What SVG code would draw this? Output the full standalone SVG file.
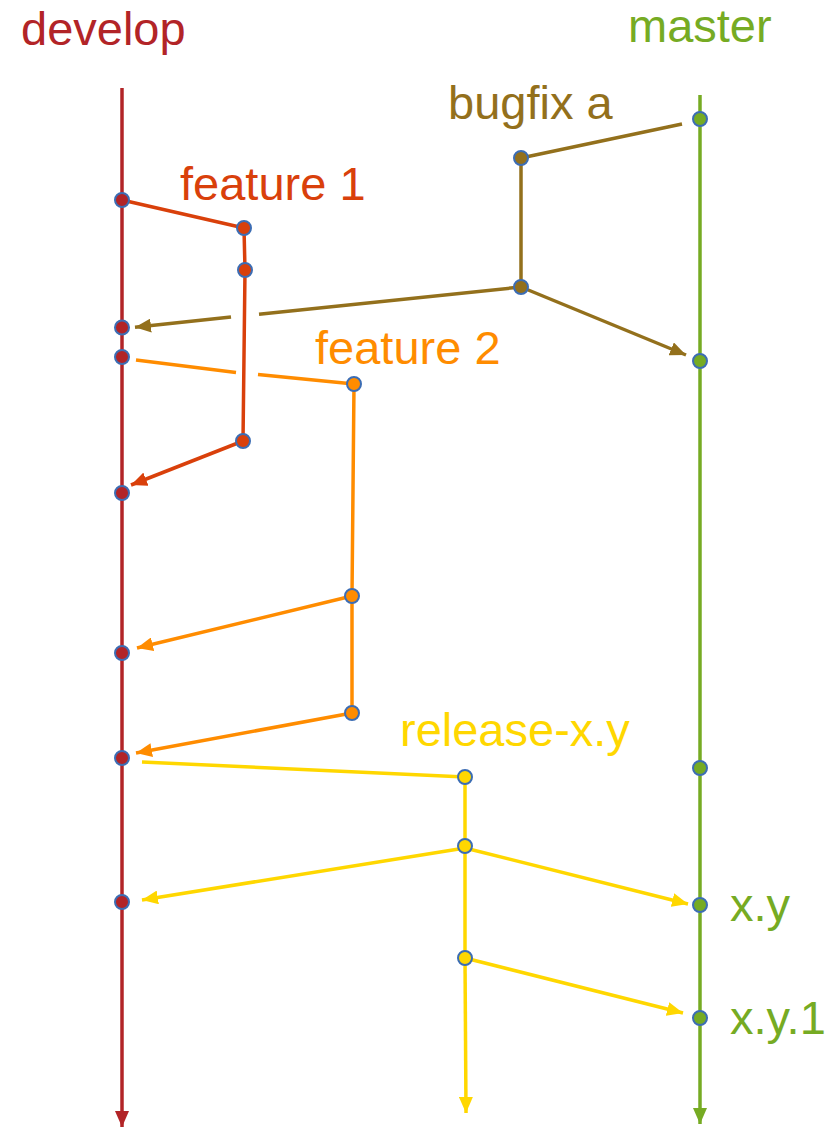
<svg xmlns="http://www.w3.org/2000/svg" width="838" height="1127" viewBox="0 0 838 1127">
  <style>
    .lbl { font-family: "Liberation Sans", Arial, sans-serif; font-size: 47px; }
    .ln { fill: none; stroke-width: 3.5; stroke-linecap: butt; stroke-linejoin: round; }
    .dot { stroke: #3c6db4; stroke-width: 2; }
    .dev { stroke: #b22427; }
    .f1 { stroke: #d9400b; }
    .bug { stroke: #93701c; }
    .f2 { stroke: #ff8c00; }
    .rel { stroke: #ffd700; }
    .mas { stroke: #76ab23; }
  </style>
  <defs>
    <marker id="ah-dev" markerUnits="userSpaceOnUse" markerWidth="16" markerHeight="14" refX="16" refY="7" orient="auto"><path d="M0,0 L16,7 L0,14 z" fill="#b22427"/></marker>
    <marker id="ah-f1" markerUnits="userSpaceOnUse" markerWidth="16" markerHeight="14" refX="16" refY="7" orient="auto"><path d="M0,0 L16,7 L0,14 z" fill="#d9400b"/></marker>
    <marker id="ah-bug" markerUnits="userSpaceOnUse" markerWidth="16" markerHeight="14" refX="16" refY="7" orient="auto"><path d="M0,0 L16,7 L0,14 z" fill="#93701c"/></marker>
    <marker id="ah-f2" markerUnits="userSpaceOnUse" markerWidth="16" markerHeight="14" refX="16" refY="7" orient="auto"><path d="M0,0 L16,7 L0,14 z" fill="#ff8c00"/></marker>
    <marker id="ah-rel" markerUnits="userSpaceOnUse" markerWidth="16" markerHeight="14" refX="16" refY="7" orient="auto"><path d="M0,0 L16,7 L0,14 z" fill="#ffd700"/></marker>
    <marker id="ah-mas" markerUnits="userSpaceOnUse" markerWidth="16" markerHeight="14" refX="16" refY="7" orient="auto"><path d="M0,0 L16,7 L0,14 z" fill="#76ab23"/></marker>
  </defs>
  <rect width="838" height="1127" fill="#ffffff"/>

  <!-- branch lines and merges -->
  <g id="connectors">
    <line class="ln dev" x1="122" y1="88" x2="122" y2="1127" stroke-width="4" marker-end="url(#ah-dev)"/>
    <line class="ln mas" x1="700" y1="95" x2="700" y2="1124" marker-end="url(#ah-mas)"/>

    <!-- feature 1 -->
    <polyline class="ln f1" points="122,200 244,228 245,270 243,441"/>
    <line class="ln f1" x1="243" y1="441" x2="131" y2="485" marker-end="url(#ah-f1)"/>

    <!-- bugfix a -->
    <polyline class="ln bug" points="682,124 521,158 521,287"/>
    <line class="ln bug" x1="521" y1="287" x2="259" y2="314.2"/>
    <line class="ln bug" x1="231" y1="317" x2="135" y2="327.3" marker-end="url(#ah-bug)"/>
    <line class="ln bug" x1="521" y1="287" x2="686" y2="355" marker-end="url(#ah-bug)"/>

    <!-- feature 2 -->
    <line class="ln f2" x1="136" y1="360" x2="236" y2="372.5"/>
    <polyline class="ln f2" points="258,374.5 354,384 352,596 352,713"/>
    <line class="ln f2" x1="352" y1="596" x2="137" y2="648" marker-end="url(#ah-f2)"/>
    <line class="ln f2" x1="352" y1="713" x2="136" y2="753" marker-end="url(#ah-f2)"/>

    <!-- release-x.y -->
    <polyline class="ln rel" points="142,762 465,777 465,845 465,958"/>
    <line class="ln rel" x1="465" y1="958" x2="466" y2="1113" marker-end="url(#ah-rel)"/>
    <line class="ln rel" x1="465" y1="848" x2="142" y2="900" marker-end="url(#ah-rel)"/>
    <line class="ln rel" x1="465" y1="848" x2="688" y2="904" marker-end="url(#ah-rel)"/>
    <line class="ln rel" x1="465" y1="958" x2="683" y2="1013" marker-end="url(#ah-rel)"/>
  </g>

  <!-- develop -->
  <g id="develop" fill="#b22427">
    <text class="lbl" x="21" y="45">develop</text>
    <circle class="dot" cx="122" cy="200" r="7"/>
    <circle class="dot" cx="122" cy="327.5" r="7"/>
    <circle class="dot" cx="122" cy="357" r="7"/>
    <circle class="dot" cx="122" cy="493" r="7"/>
    <circle class="dot" cx="122" cy="653" r="7"/>
    <circle class="dot" cx="122" cy="758" r="7"/>
    <circle class="dot" cx="122" cy="902" r="7"/>
  </g>

  <!-- master -->
  <g id="master" fill="#76ab23">
    <text class="lbl" x="628" y="42">master</text>
    <circle class="dot" cx="700" cy="119" r="7"/>
    <circle class="dot" cx="700" cy="361" r="7"/>
    <circle class="dot" cx="700" cy="768" r="7"/>
    <circle class="dot" cx="700" cy="905" r="7"/>
    <circle class="dot" cx="700" cy="1018" r="7"/>
    <text class="lbl" x="730" y="921">x.y</text>
    <text class="lbl" x="730" y="1034">x.y.1</text>
  </g>

  <!-- feature 1 -->
  <g id="feature-1" fill="#d9400b">
    <text class="lbl" x="180" y="200">feature 1</text>
    <circle class="dot" cx="244" cy="228" r="7"/>
    <circle class="dot" cx="245" cy="270" r="7"/>
    <circle class="dot" cx="243" cy="441" r="7"/>
  </g>

  <!-- bugfix a -->
  <g id="bugfix-a" fill="#93701c">
    <text class="lbl" x="448" y="119">bugfix a</text>
    <circle class="dot" cx="521" cy="158" r="7"/>
    <circle class="dot" cx="521" cy="287" r="7"/>
  </g>

  <!-- feature 2 -->
  <g id="feature-2" fill="#ff8c00">
    <text class="lbl" x="315" y="364">feature 2</text>
    <circle class="dot" cx="354" cy="384" r="7"/>
    <circle class="dot" cx="352" cy="596" r="7"/>
    <circle class="dot" cx="352" cy="713" r="7"/>
  </g>

  <!-- release-x.y -->
  <g id="release-x-y" fill="#ffd700">
    <text class="lbl" x="400" y="746">release-x.y</text>
    <circle class="dot" cx="465" cy="777" r="7"/>
    <circle class="dot" cx="465" cy="846" r="7"/>
    <circle class="dot" cx="465" cy="958" r="7"/>
  </g>
</svg>
